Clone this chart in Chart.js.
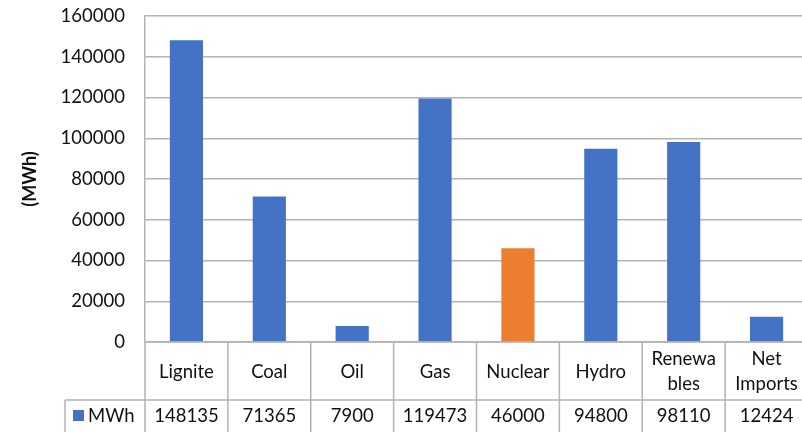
<!DOCTYPE html>
<html>
<head>
<meta charset="utf-8">
<script src="https://cdn.jsdelivr.net/npm/chart.js@4.4.1/dist/chart.umd.min.js"></script>
<style>
  html, body { margin: 0; padding: 0; overflow: hidden; background: #fff; }
  #wrap { width: 810px; height: 432px; position: relative; }
</style>
</head>
<body>
<div id="wrap"><canvas id="c"></canvas></div>
<script>
// Electricity production by source, in MWh
const categories = [["Lignite"], ["Coal"], ["Oil"], ["Gas"], ["Nuclear"], ["Hydro"], ["Renewa", "bles"], ["Net", "Imports"]];
const seriesName = "MWh";
const values = [148135, 71365, 7900, 119473, 46000, 94800, 98110, 12424];
const yTickValues = [0, 20000, 40000, 60000, 80000, 100000, 120000, 140000, 160000];

const BLUE = "#4472C4";
const ORANGE = "#ED7D31";
const GRID = "#b3b3b3";
const FONT = "Lato, 'Open Sans', sans-serif";
const barColors = categories.map(c => c[0] === "Nuclear" ? ORANGE : BLUE);

// Data table drawn under the plot area, aligned with the category scale
const dataTable = {
  id: "dataTable",
  afterDraw(chart) {
    const { ctx, chartArea, scales } = chart;
    const x = scales.x;
    const n = categories.length;
    const cw = (chartArea.right - chartArea.left) / n;
    const top = chartArea.bottom;
    const rowTop = top + 58;
    const bottom = chart.height;
    const legendLeft = 65;

    ctx.save();
    ctx.strokeStyle = GRID;
    ctx.lineWidth = 1.5;
    ctx.beginPath();
    // row separators
    ctx.moveTo(chartArea.left, top); ctx.lineTo(chartArea.right, top);
    ctx.moveTo(legendLeft, rowTop); ctx.lineTo(chartArea.right, rowTop);
    // column separators
    for (let i = 0; i <= n; i++) {
      const px = chartArea.left + i * cw;
      ctx.moveTo(px, top); ctx.lineTo(px, bottom);
    }
    ctx.moveTo(legendLeft, rowTop); ctx.lineTo(legendLeft, bottom);
    ctx.stroke();

    ctx.fillStyle = "#111";
    ctx.font = "18.5px " + FONT;
    ctx.textAlign = "center";
    ctx.textBaseline = "middle";
    const headMid = (top + rowTop) / 2 + 1;
    const lineH = 25;
    categories.forEach((lines, i) => {
      const cx = x.getPixelForValue(i);
      const y0 = headMid - (lines.length - 1) * lineH / 2;
      lines.forEach((t, k) => ctx.fillText(t, cx, y0 + k * lineH));
      ctx.fillText(String(values[i]), cx, rowTop + 16);
    });

    // series key
    ctx.fillStyle = BLUE;
    ctx.fillRect(73, rowTop + 10, 11, 11);
    ctx.fillStyle = "#111";
    ctx.textAlign = "left";
    ctx.fillText(seriesName, 88, rowTop + 16);
    ctx.restore();
  }
};

new Chart(document.getElementById("c"), {
  type: "bar",
  data: {
    labels: categories.map(c => c.join("")),
    datasets: [{
      label: seriesName,
      data: values,
      backgroundColor: barColors,
      borderWidth: 0,
      barPercentage: 0.4,
      categoryPercentage: 1.0
    }]
  },
  options: {
    responsive: true,
    maintainAspectRatio: false,
    animation: false,
    layout: { padding: { top: 16, right: 2, bottom: 90, left: 0 } },
    plugins: { legend: { display: false }, tooltip: { enabled: false } },
    scales: {
      x: { display: false },
      y: {
        min: 0,
        max: 160000,
        afterBuildTicks(scale) { scale.ticks = yTickValues.map(v => ({ value: v })); },
        afterFit(scale) {
          scale.width = 145;
          scale.paddingTop = 0;
          scale.paddingBottom = 0;
        },
        ticks: {
          padding: 20,
          color: "#111",
          font: { family: FONT, size: 18.5 },
          callback: v => String(v)
        },
        grid: { color: GRID, lineWidth: 1.5, drawTicks: false },
        border: { display: true, color: GRID, width: 1.5 },
        title: {
          display: true,
          text: "(MWh)",
          color: "#111",
          font: { family: FONT, size: 18, weight: "bold" },
          padding: { top: 19, bottom: 0 }
        }
      }
    }
  },
  plugins: [dataTable]
});
</script>
</body>
</html>
